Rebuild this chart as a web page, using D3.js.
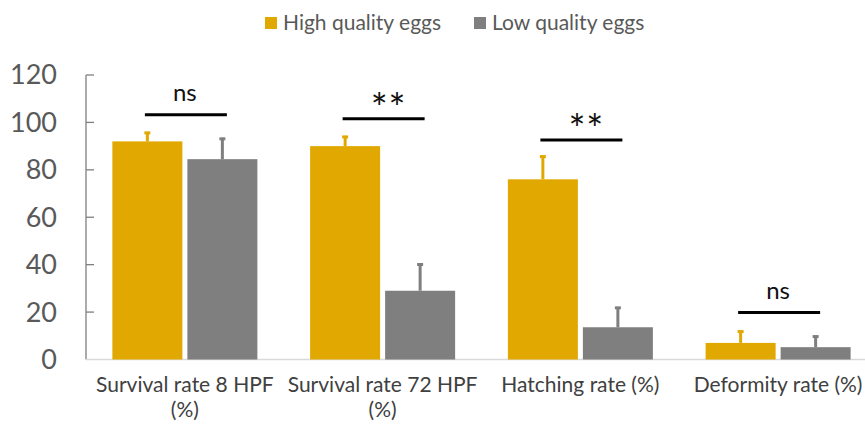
<!DOCTYPE html>
<html>
<head>
<meta charset="utf-8">
<script src="https://cdn.jsdelivr.net/npm/d3@7"></script>
<style>
  body { margin: 0; background: #fff; }
  text { font-family: Lato, "Open Sans", sans-serif; }
</style>
</head>
<body>
<div id="chart"></div>
<script>
// Dati
const categories = [
  ['Survival rate 8 HPF', '(%)'],
  ['Survival rate 72 HPF', '(%)'],
  ['Hatching rate (%)'],
  ['Deformity rate (%)']
];
const seriesNames = ['High quality eggs', 'Low quality eggs'];
const highValues = [92, 90, 76, 7];
const highErrors = [4, 4.3, 10, 5.2];
const lowValues = [84.5, 29, 13.6, 5.2];
const lowErrors = [9, 11.5, 8.6, 4.9];
const sigLabels = ['ns', '**', '**', 'ns'];
const sigLevels = [103.2, 101.5, 92.6, 19.8];
const yTicks = [0, 20, 40, 60, 80, 100, 120];

// Variabili
const [width, height] = [865, 430];
const colors = ['#E0A800', '#7F7F7F'];
const barWidth = 70;
const barGap = 5;

const svg = d3.select('#chart')
  .append('svg')
  .attr('width', width)
  .attr('height', height);

const xScale = d3.scaleBand()
  .domain(d3.range(categories.length))
  .range([86, 877]);

const yScale = d3.scaleLinear()
  .domain([0, 120])
  .range([359.5, 75]);

const groupCenter = (i) => xScale(i) + xScale.bandwidth() / 2;

// Asse y
svg.append('line')
  .attr('x1', 86).attr('x2', 86)
  .attr('y1', yScale(120)).attr('y2', yScale(0))
  .attr('stroke', '#7f7f7f').attr('stroke-width', 1.3);

svg.append('g').selectAll('line')
  .data(yTicks.filter((d) => d > 0))
  .enter()
  .append('line')
  .attr('x1', 86).attr('x2', 94)
  .attr('y1', (d) => yScale(d)).attr('y2', (d) => yScale(d))
  .attr('stroke', '#7f7f7f').attr('stroke-width', 1.3);

svg.append('g').selectAll('text')
  .data(yTicks)
  .enter()
  .append('text')
  .attr('x', 57)
  .attr('y', (d) => yScale(d))
  .attr('dy', '0.35em')
  .attr('text-anchor', 'end')
  .attr('font-size', 27)
  .attr('fill', '#595959')
  .text((d) => d);

// Linea di base
svg.append('line')
  .attr('x1', 86).attr('x2', width)
  .attr('y1', yScale(0)).attr('y2', yScale(0))
  .attr('stroke', '#d9d9d9').attr('stroke-width', 1.5);

// Barre
const series = [
  { values: highValues, errors: highErrors, offset: -(barWidth + barGap / 2) },
  { values: lowValues, errors: lowErrors, offset: barGap / 2 }
];

series.forEach((s, k) => {
  const g = svg.append('g');
  const rows = s.values.map((v, i) => ({ i, v, e: s.errors[i] }));

  g.selectAll('rect')
    .data(rows)
    .enter()
    .append('rect')
    .attr('x', (d) => groupCenter(d.i) + s.offset)
    .attr('y', (d) => yScale(d.v))
    .attr('width', barWidth)
    .attr('height', (d) => yScale(0) - yScale(d.v))
    .attr('fill', colors[k]);

  g.selectAll('line.stem')
    .data(rows)
    .enter()
    .append('line')
    .attr('class', 'stem')
    .attr('x1', (d) => groupCenter(d.i) + s.offset + barWidth / 2)
    .attr('x2', (d) => groupCenter(d.i) + s.offset + barWidth / 2)
    .attr('y1', (d) => yScale(d.v))
    .attr('y2', (d) => yScale(d.v + d.e))
    .attr('stroke', colors[k])
    .attr('stroke-width', 3);

  g.selectAll('line.cap')
    .data(rows)
    .enter()
    .append('line')
    .attr('class', 'cap')
    .attr('x1', (d) => groupCenter(d.i) + s.offset + barWidth / 2 - 3)
    .attr('x2', (d) => groupCenter(d.i) + s.offset + barWidth / 2 + 3)
    .attr('y1', (d) => yScale(d.v + d.e) + 1)
    .attr('y2', (d) => yScale(d.v + d.e) + 1)
    .attr('stroke', colors[k])
    .attr('stroke-width', 3);
});

// Significativita
const sig = svg.append('g');
sig.selectAll('line')
  .data(sigLevels)
  .enter()
  .append('line')
  .attr('x1', (d, i) => groupCenter(i) - 40)
  .attr('x2', (d, i) => groupCenter(i) + 42)
  .attr('y1', (d) => yScale(d))
  .attr('y2', (d) => yScale(d))
  .attr('stroke', '#000')
  .attr('stroke-width', 3);

sig.selectAll('text')
  .data(sigLabels)
  .enter()
  .append('text')
  .attr('x', (d, i) => groupCenter(i) + (d === 'ns' ? 0 : 6))
  .attr('y', (d, i) => yScale(sigLevels[i]) - (d === 'ns' ? 14 : -4))
  .attr('text-anchor', 'middle')
  .attr('font-size', (d) => d === 'ns' ? 24 : 40)
  .attr('letter-spacing', (d) => d === 'ns' ? 0 : 1)
  .attr('fill', '#111')
  .text((d) => d);

// Etichette asse x
const xLabels = svg.append('g').selectAll('text')
  .data(categories)
  .enter()
  .append('text')
  .attr('x', (d, i) => groupCenter(i))
  .attr('y', 392)
  .attr('text-anchor', 'middle')
  .attr('font-size', 21)
  .attr('fill', '#404040');

xLabels.selectAll('tspan')
  .data((d, i) => d.map((t) => ({ t, i })))
  .enter()
  .append('tspan')
  .attr('x', (d) => groupCenter(d.i))
  .attr('dy', (d, j) => j === 0 ? 0 : 25)
  .text((d) => d.t);

// Legenda
const legendX = [265, 474];
const legend = svg.append('g').selectAll('g')
  .data(seriesNames)
  .enter()
  .append('g')
  .attr('transform', (d, i) => `translate(${legendX[i]},17)`);

legend.append('rect')
  .attr('width', 12)
  .attr('height', 12)
  .attr('fill', (d, i) => colors[i]);

legend.append('text')
  .attr('x', 18)
  .attr('y', 6)
  .attr('dy', '0.35em')
  .attr('font-size', 21)
  .attr('fill', '#595959')
  .text((d) => d);
</script>
</body>
</html>
